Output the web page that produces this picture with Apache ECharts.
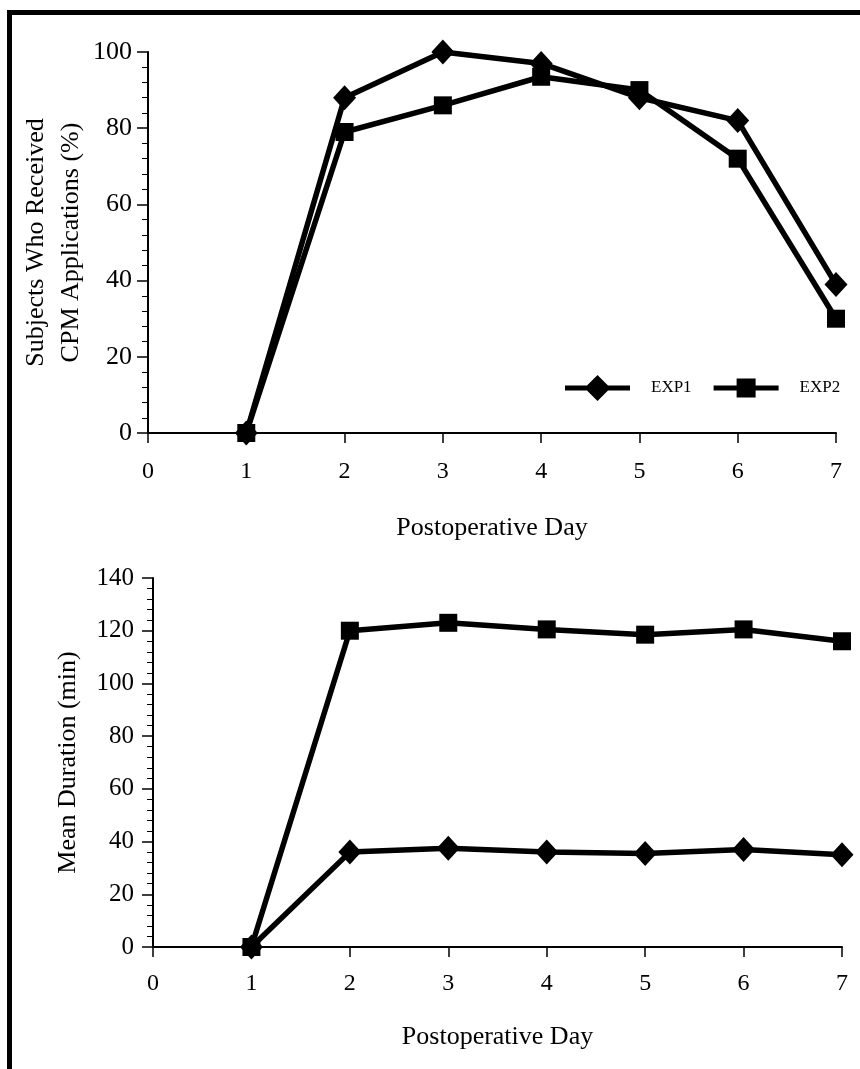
<!DOCTYPE html>
<html>
<head>
<meta charset="utf-8">
<script src="https://cdn.jsdelivr.net/npm/echarts@6/dist/echarts.min.js"></script>
<style>
  html, body { margin: 0; padding: 0; background: #fff; }
  #frame { position: absolute; left: 7px; top: 10px; width: 860px; height: 1100px;
           border-top: 5px solid #000; border-left: 5px solid #000; box-sizing: border-box; }
  #main { position: absolute; left: 0; top: 0; width: 860px; height: 1069px; }
</style>
</head>
<body>
<div id="frame"></div>
<div id="main"></div>
<script>
// 术后天数
var days = [1, 2, 3, 4, 5, 6, 7];
var xTicks = [0, 1, 2, 3, 4, 5, 6, 7];
var seriesNames = ['EXP1', 'EXP2'];

// 上图：接受CPM的受试者(%)
var pctExp1 = [0, 88, 100, 97, 88, 82, 39];
var pctExp2 = [0, 79, 86, 93.5, 90, 72, 30];

// 下图：平均时长(min)
var durExp1 = [0, 36, 37.5, 36, 35.5, 37, 35];
var durExp2 = [0, 120, 123, 120.5, 118.5, 120.5, 116];

var FONT = '"Liberation Serif", "Times New Roman", serif';

// 图例图标：线段 + 标记
var ICON_DIAMOND = 'path://M0,10.5 H22 L32.5,0 L43,10.5 H65 V15.5 H43 L32.5,26 L22,15.5 H0 Z';
var ICON_SQUARE = 'path://M0,10.5 H23 V3.5 H42 V10.5 H65 V15.5 H42 V22.5 H23 V15.5 H0 Z ' +
    'M32,0 L32.01,0 L32,0 Z M32,26 L32.01,26 L32,26 Z';

function pairs(values) {
    var out = [];
    for (var i = 0; i < days.length; i++) {
        out.push([days[i], values[i]]);
    }
    return out;
}

function xAxisOpt(gridIndex, gap, labelMargin) {
    return {
        type: 'value', gridIndex: gridIndex,
        min: xTicks[0], max: xTicks[xTicks.length - 1], interval: 1,
        name: 'Postoperative Day', nameLocation: 'middle', nameGap: gap,
        nameMoveOverlap: false,
        nameTextStyle: {fontFamily: FONT, fontSize: 26, color: '#000'},
        axisLine: {show: true, onZero: false, lineStyle: {color: '#000', width: 2}},
        axisTick: {show: true, inside: false, length: 10, lineStyle: {color: '#000', width: 1.5}},
        axisLabel: {fontFamily: FONT, fontSize: 24, color: '#000', margin: labelMargin},
        splitLine: {show: false}
    };
}

function yAxisOpt(gridIndex, max, name, gap, fontSize, labelMargin, lineHeight) {
    return {
        type: 'value', gridIndex: gridIndex,
        min: 0, max: max, interval: 20,
        name: name, nameLocation: 'middle', nameGap: gap, nameRotate: 90,
        nameMoveOverlap: false,
        nameTextStyle: {fontFamily: FONT, fontSize: 26, color: '#000', lineHeight: lineHeight},
        axisLine: {show: true, onZero: false, lineStyle: {color: '#000', width: 2}},
        axisTick: {show: true, inside: false, length: 11, lineStyle: {color: '#000', width: 1.5}},
        minorTick: {show: true, splitNumber: 5, length: 6, lineStyle: {color: '#000', width: 1}},
        axisLabel: {fontFamily: FONT, fontSize: fontSize, color: '#000', margin: labelMargin},
        splitLine: {show: false},
        minorSplitLine: {show: false}
    };
}

function lineSeries(name, values, idx) {
    var isDiamond = name === 'EXP1';
    return {
        name: name, type: 'line',
        xAxisIndex: idx, yAxisIndex: idx,
        data: pairs(values),
        symbol: isDiamond ? 'diamond' : 'rect',
        symbolSize: isDiamond ? [23, 25] : 18,
        lineStyle: {color: '#000', width: 5.5},
        itemStyle: {color: '#000'},
        clip: false,
        z: isDiamond ? 3 : 2
    };
}

var myChart = echarts.init(document.getElementById('main'), null, {renderer: 'canvas'});

var option = {
    animation: false,
    backgroundColor: 'transparent',
    grid: [
        {left: 148, top: 52, width: 688, height: 381},
        {left: 153, top: 578, width: 689, height: 369}
    ],
    legend: {
        data: [
            {name: seriesNames[0], icon: ICON_DIAMOND},
            {name: seriesNames[1], icon: ICON_SQUARE}
        ],
        left: 560, top: 370,
        itemWidth: 65, itemHeight: 26, itemGap: 22,
        textStyle: {fontFamily: FONT, fontSize: 17, color: '#000', padding: [0, 0, 0, 16]},
        selectedMode: false
    },
    xAxis: [xAxisOpt(0, 82, 27), xAxisOpt(1, 77, 25)],
    yAxis: [
        yAxisOpt(0, 100, 'Subjects Who Received\nCPM Applications (%)', 59, 26, 16, 35),
        yAxisOpt(1, 140, 'Mean Duration (min)', 70, 25, 19, 30)
    ],
    series: [
        lineSeries('EXP1', pctExp1, 0),
        lineSeries('EXP2', pctExp2, 0),
        lineSeries('EXP1', durExp1, 1),
        lineSeries('EXP2', durExp2, 1)
    ]
};

myChart.setOption(option);
</script>
</body>
</html>
